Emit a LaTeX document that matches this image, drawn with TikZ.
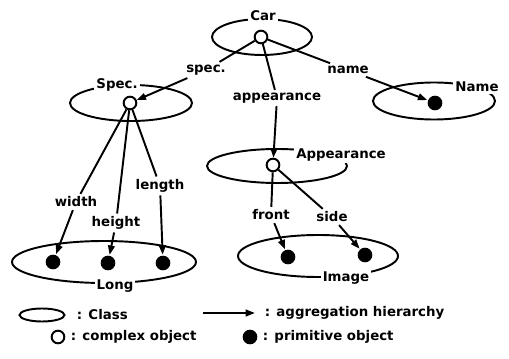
\documentclass[tikz,border=0pt]{standalone}
\usepackage{fontspec}
\setmainfont{DejaVu Sans}
\usetikzlibrary{shapes.geometric,arrows.meta}
\begin{document}
\begin{tikzpicture}[x=0.75pt,y=-0.75pt,line width=1.45pt,
  cls/.style={ellipse,draw,inner sep=0pt},
  cplx/.style={circle,draw,fill=white,inner sep=0pt,minimum size=9.5pt},
  prim/.style={circle,fill=black,inner sep=0pt,minimum size=11pt},
  clab/.style={fill=white,inner sep=1.5pt,font=\bfseries\fontsize{10}{12}\selectfont},
  elab/.style={inner sep=1.5pt,font=\bfseries\fontsize{10}{12}\selectfont},
  leg/.style={anchor=west,inner sep=0pt,font=\bfseries\fontsize{10}{12}\selectfont},
  agg/.style={-{Triangle[length=7pt,width=5pt]}}]
\useasboundingbox (0,0) rectangle (509,359);

% classes
\node[cls,minimum width=75pt,minimum height=27pt] (carC) at (262,37) {};
\node[cls,minimum width=91.5pt,minimum height=27pt] (specC) at (131,103) {};
\node[cls,minimum width=91.5pt,minimum height=27.75pt] (nameC) at (434,101) {};
\node[cls,minimum width=105pt,minimum height=25.5pt] (appC) at (277,166) {};
\node[cls,minimum width=120pt,minimum height=31.5pt] (imgC) at (318,256) {};
\node[cls,minimum width=138pt,minimum height=31.5pt] (longC) at (104,262) {};

% class labels
\node[clab] (carT) at (263,16) {Car};
\node[clab] (specT) at (117,85) {Spec.};
\node[clab] (nameT) at (477,87) {Name};
\node[clab] (appT) at (341,155) {Appearance};
\node[clab] (imgT) at (346,278) {Image};
\node[clab] (longT) at (115,286) {Long};

% objects
\node[cplx] (carO) at (261,37) {};
\node[cplx] (specO) at (130,103) {};
\node[cplx] (appO) at (273,165) {};
\node[prim] (nameP) at (435,103) {};
\node[prim] (wP) at (53,262) {};
\node[prim] (hP) at (108,263) {};
\node[prim] (lP) at (163,263) {};
\node[prim] (fP) at (288,257) {};
\node[prim] (sP) at (365,255) {};

% edge labels
\node[elab] (specL) at (206,70) {spec.};
\node[elab] (nameL) at (348,70) {name};
\node[elab] (appL) at (277,98) {appearance};
\node[elab] (widthL) at (76,202) {width};
\node[elab] (heightL) at (116,223) {height};
\node[elab] (lengthL) at (160,186) {length};
\node[elab] (frontL) at (271,215) {front};
\node[elab] (sideL) at (332,217) {side};

% edges
\draw (carO) -- (specL);  \draw[agg] (specL) -- (specO);
\draw (carO) -- (nameL);  \draw[agg] (nameL) -- (nameP);
\draw (carO) -- (appL);   \draw[agg] (appL) -- (appO);
\draw (specO) -- (widthL);  \draw[agg] (widthL) -- (wP);
\draw (specO) -- (heightL); \draw[agg] (heightL) -- (hP);
\draw (specO) -- (lengthL); \draw[agg] (lengthL) -- (lP);
\draw (appO) -- (frontL); \draw[agg] (frontL) -- (fP);
\draw (appO) -- (sideL);  \draw[agg] (sideL) -- (sP);

% legend
\node[cls,minimum width=33.75pt,minimum height=9.75pt] (legC) at (42,315) {};
\node[leg] (legCT) at (76,315) {: Class};
\coordinate (legA1) at (203,313);
\coordinate (legA2) at (255,313);
\draw[agg] (legA1) -- (legA2);
\node[leg] (legAT) at (264,313) {: aggregation hierarchy};
\node[cplx] (legO) at (58,337) {};
\node[leg] (legOT) at (70,337) {: complex object};
\node[prim] (legP) at (250,337) {};
\node[leg] (legPT) at (262,337) {: primitive object};
\end{tikzpicture}
\end{document}
